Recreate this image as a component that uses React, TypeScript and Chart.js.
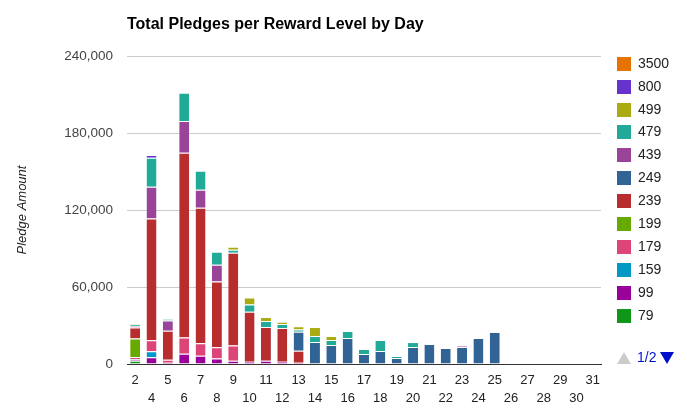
import React, { useEffect, useRef } from 'react';
import { Chart, registerables } from 'chart.js';

Chart.register(...registerables);

const FONT = 'Arial, "Liberation Sans", sans-serif';

const days = ['2', '4', '5', '6', '7', '8', '9', '10', '11', '12', '13', '14', '15', '16', '17', '18', '19', '20', '21', '22', '23', '24', '25', '26', '27', '28', '29', '30', '31'];

const level79 = [2600, 0, 0, 0, 0, 0, 0, 0, 0, 0, 0, 0, 0, 0, 0, 0, 0, 0, 0, 0, 0, 0, 0, 0, 0, 0, 0, 0, 0];
const level99 = [700, 5200, 1000, 8000, 6500, 4200, 2600, 1800, 2600, 1800, 1000, 0, 0, 0, 0, 0, 0, 0, 0, 0, 0, 0, 0, 0, 0, 0, 0, 0, 0];
const level159 = [600, 4700, 0, 0, 0, 0, 0, 0, 0, 0, 0, 0, 0, 0, 0, 0, 0, 0, 0, 0, 0, 0, 0, 0, 0, 0, 0, 0, 0];
const level179 = [1600, 8600, 2300, 12700, 9600, 8800, 11900, 0, 0, 0, 0, 0, 0, 0, 0, 0, 0, 0, 0, 0, 0, 0, 0, 0, 0, 0, 0, 0, 0];
const level199 = [14300, 0, 0, 0, 0, 0, 0, 0, 0, 0, 0, 0, 0, 0, 0, 0, 0, 0, 0, 0, 0, 0, 0, 0, 0, 0, 0, 0, 0];
const level239 = [8600, 94800, 22600, 143900, 105700, 51200, 72200, 39000, 26200, 26200, 9300, 0, 0, 0, 0, 0, 0, 0, 0, 0, 0, 0, 0, 0, 0, 0, 0, 0, 0];
const level249 = [0, 0, 0, 0, 0, 0, 0, 0, 0, 0, 14800, 17100, 14800, 20300, 7800, 10100, 4700, 13200, 15600, 12500, 13200, 20300, 24900, 0, 0, 0, 0, 0, 0];
const level439 = [1300, 24900, 8000, 24700, 14000, 13200, 0, 0, 0, 0, 0, 0, 0, 0, 0, 0, 0, 0, 0, 0, 800, 0, 0, 0, 0, 0, 0, 0, 0];
const level479 = [1000, 22600, 1300, 22100, 14800, 10100, 2300, 5500, 4700, 3100, 1800, 4700, 3900, 5500, 3900, 8600, 1600, 3900, 0, 0, 0, 0, 0, 0, 0, 0, 0, 0, 0];
const level499 = [1000, 0, 0, 0, 0, 0, 2300, 5500, 3100, 1800, 2600, 7000, 3100, 0, 0, 0, 0, 0, 0, 0, 0, 0, 0, 0, 0, 0, 0, 0, 0];
const level800 = [0, 2000, 0, 0, 0, 0, 0, 0, 0, 0, 0, 0, 0, 0, 0, 0, 0, 0, 0, 0, 0, 0, 0, 0, 0, 0, 0, 0, 0];
const level3500 = [0, 0, 0, 0, 0, 0, 0, 0, 0, 0, 0, 0, 0, 0, 0, 0, 0, 0, 0, 0, 0, 0, 0, 0, 0, 0, 0, 0, 0];

const seriesNames = ['79', '99', '159', '179', '199', '239', '249', '439', '479', '499', '800', '3500'];
const seriesValues = [level79, level99, level159, level179, level199, level239, level249, level439, level479, level499, level800, level3500];
const seriesColors = ['#109618', '#990099', '#0099c6', '#dd4477', '#66aa00', '#b82e2e', '#316395', '#994499', '#22aa99', '#aaaa11', '#6633cc', '#e67300'];

const yTicks = [0, 60000, 120000, 180000, 240000];

const sideLegend = {
  id: 'sideLegend',
  afterDraw(chart: any) {
    const ctx = chart.ctx;
    const area = chart.chartArea;
    const ds = chart.data.datasets;
    const x0 = Math.round(area.right + 16);
    const y0 = area.top + 0.7;
    const step = 22.91;
    ctx.save();
    ctx.font = '14px ' + FONT;
    ctx.textAlign = 'left';
    ctx.textBaseline = 'middle';
    for (let i = 0; i < ds.length; i++) {
      const d = ds[ds.length - 1 - i];
      const top = Math.round(y0 + i * step);
      ctx.fillStyle = d.backgroundColor;
      ctx.fillRect(x0, top, 14, 14);
      ctx.fillStyle = '#222222';
      ctx.fillText(d.label, x0 + 21, top + 7.5);
    }
    // pager
    const py = area.bottom;
    ctx.fillStyle = '#cccccc';
    ctx.beginPath();
    ctx.moveTo(x0, py);
    ctx.lineTo(x0 + 14, py);
    ctx.lineTo(x0 + 7, py - 12);
    ctx.closePath();
    ctx.fill();
    ctx.fillStyle = '#0011cc';
    ctx.fillText('1/2', x0 + 20, py - 5.5);
    ctx.beginPath();
    ctx.moveTo(x0 + 43, py - 12);
    ctx.lineTo(x0 + 57, py - 12);
    ctx.lineTo(x0 + 50, py);
    ctx.closePath();
    ctx.fill();
    ctx.restore();
  },
};

export default function App() {
  const ref = useRef<HTMLCanvasElement | null>(null);

  useEffect(() => {
    if (!ref.current) return;
    const chart = new Chart(ref.current, {
      type: 'bar',
      data: {
        labels: days,
        datasets: seriesNames.map((name, i) => ({
          label: name,
          data: seriesValues[i],
          backgroundColor: seriesColors[i],
          borderColor: '#ffffff',
          borderWidth: { top: 1, left: 0, right: 0, bottom: 0 },
          borderSkipped: 'start',
          barPercentage: 0.61,
          categoryPercentage: 1,
        })),
      },
      options: {
        responsive: false,
        animation: false,
        layout: { padding: { left: 0, right: 86, top: 0, bottom: 0 } },
        plugins: {
          legend: { display: false },
          tooltip: { enabled: false },
          title: {
            display: true,
            text: 'Total Pledges per Reward Level by Day',
            align: 'start',
            fullSize: false,
            color: '#000000',
            font: { family: FONT, size: 16, weight: 'bold' },
            padding: { top: 15.4, bottom: 21.4 },
          },
        },
        scales: {
          x: {
            stacked: true,
            grid: { display: false, drawTicks: false },
            border: { display: true, color: '#333333', width: 1 },
            ticks: {
              autoSkip: false,
              maxRotation: 0,
              minRotation: 0,
              padding: 7.5,
              color: '#222222',
              font: { family: FONT, size: 13, lineHeight: 18 / 13 },
              callback: (_v: any, i: number) => (i % 2 ? ['', days[i]] : days[i]),
            },
            afterFit: (s: any) => {
              s.height = 49;
            },
          },
          y: {
            stacked: true,
            min: yTicks[0],
            max: yTicks[yTicks.length - 1],
            afterBuildTicks: (s: any) => {
              s.ticks = yTicks.map((v) => ({ value: v }));
            },
            grid: { color: '#cccccc', drawTicks: false },
            border: { display: false },
            ticks: {
              padding: 14,
              color: '#444444',
              font: { family: FONT, size: 13.5 },
              callback: (v: any) => Number(v).toLocaleString('en-US'),
            },
            title: {
              display: true,
              text: 'Pledge Amount',
              color: '#222222',
              font: { family: FONT, size: 13, style: 'italic' },
              padding: { top: 15, bottom: 0 },
            },
            afterFit: (s: any) => {
              s.width = 127;
            },
          },
        },
      },
      plugins: [sideLegend],
    });
    return () => chart.destroy();
  }, []);

  return (
    <div style={{ position: 'fixed', left: 0, top: 0, width: 687, height: 413, background: '#ffffff' }}>
      <canvas ref={ref} width={687} height={413} />
    </div>
  );
}
